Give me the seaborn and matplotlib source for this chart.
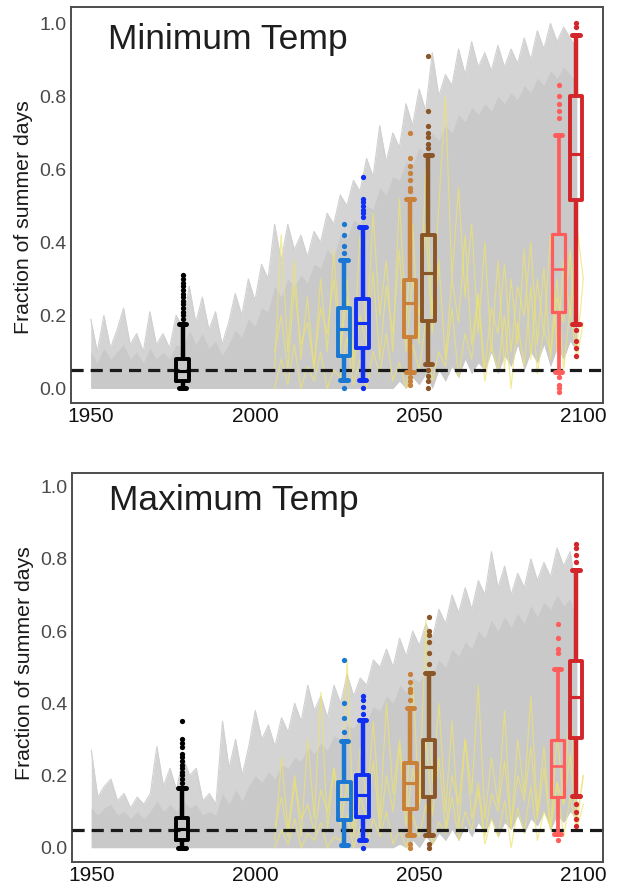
import numpy as np
import pandas as pd
import matplotlib
matplotlib.use("Agg")
import matplotlib.pyplot as plt
import seaborn as sns

sns.set_style("white")
plt.rcParams['font.family'] = ['Liberation Sans', 'DejaVu Sans']

# ---------------- data ----------------
env_years = list(range(1950, 2099, 2))          # 75 points
yellow_years = list(range(2006, 2101, 2))       # 48 points

# Minimum Temp: envelope of model spaghetti
min_outer = [0.19, 0.10, 0.20, 0.11, 0.16, 0.22, 0.12, 0.15, 0.10, 0.21,
             0.12, 0.15, 0.11, 0.20, 0.17, 0.28, 0.18, 0.25, 0.16, 0.21,
             0.12, 0.18, 0.26, 0.20, 0.30, 0.24, 0.34, 0.30, 0.45, 0.35,
             0.45, 0.38, 0.42, 0.36, 0.43, 0.40, 0.48, 0.45, 0.53, 0.50,
             0.57, 0.54, 0.63, 0.58, 0.72, 0.62, 0.70, 0.66, 0.78, 0.72,
             0.82, 0.76, 0.92, 0.80, 0.86, 0.83, 0.93, 0.86, 0.95, 0.88,
             0.92, 0.87, 0.94, 0.88, 0.93, 0.89, 0.96, 0.90, 0.98, 0.93,
             1.00, 0.95, 0.99, 0.96, 0.93]
min_core = [0.10, 0.07, 0.11, 0.08, 0.10, 0.12, 0.08, 0.10, 0.07, 0.11,
            0.08, 0.10, 0.08, 0.12, 0.11, 0.16, 0.12, 0.15, 0.11, 0.13,
            0.09, 0.12, 0.16, 0.14, 0.19, 0.17, 0.22, 0.21, 0.28, 0.25,
            0.30, 0.28, 0.31, 0.29, 0.34, 0.33, 0.38, 0.36, 0.42, 0.41,
            0.46, 0.45, 0.50, 0.49, 0.55, 0.53, 0.58, 0.57, 0.62, 0.61,
            0.66, 0.64, 0.70, 0.68, 0.72, 0.70, 0.75, 0.73, 0.77, 0.75,
            0.78, 0.76, 0.80, 0.78, 0.81, 0.79, 0.83, 0.81, 0.85, 0.83,
            0.87, 0.85, 0.88, 0.86, 0.84]
min_lower = [0.0] * 46 + [0.00, 0.02, 0.00, 0.03, 0.01, 0.04, 0.00, 0.05, 0.02, 0.06,
                          0.03, 0.08, 0.04, 0.07, 0.05, 0.10, 0.04, 0.09, 0.06, 0.12,
                          0.05, 0.10, 0.07, 0.12, 0.06, 0.11, 0.08, 0.13, 0.10]

# Maximum Temp: envelope of model spaghetti
max_outer = [0.27, 0.14, 0.17, 0.19, 0.13, 0.15, 0.11, 0.14, 0.12, 0.15,
             0.28, 0.17, 0.22, 0.16, 0.25, 0.20, 0.22, 0.13, 0.15, 0.12,
             0.35, 0.22, 0.30, 0.20, 0.28, 0.38, 0.30, 0.34, 0.28, 0.36,
             0.32, 0.40, 0.35, 0.45, 0.38, 0.42, 0.36, 0.45, 0.40, 0.48,
             0.42, 0.47, 0.45, 0.52, 0.50, 0.55, 0.50, 0.58, 0.53, 0.60,
             0.56, 0.62, 0.58, 0.66, 0.62, 0.70, 0.65, 0.72, 0.66, 0.74,
             0.70, 0.82, 0.72, 0.78, 0.70, 0.76, 0.72, 0.80, 0.74, 0.79,
             0.75, 0.83, 0.78, 0.82, 0.70]
max_core = [0.11, 0.09, 0.11, 0.12, 0.09, 0.10, 0.08, 0.10, 0.08, 0.10,
            0.13, 0.10, 0.12, 0.10, 0.13, 0.11, 0.12, 0.09, 0.10, 0.09,
            0.15, 0.12, 0.16, 0.13, 0.17, 0.20, 0.18, 0.21, 0.19, 0.23,
            0.22, 0.25, 0.24, 0.28, 0.26, 0.29, 0.27, 0.31, 0.30, 0.34,
            0.33, 0.36, 0.35, 0.39, 0.38, 0.42, 0.40, 0.45, 0.43, 0.47,
            0.46, 0.49, 0.48, 0.52, 0.50, 0.55, 0.53, 0.57, 0.55, 0.60,
            0.58, 0.63, 0.60, 0.64, 0.61, 0.65, 0.62, 0.67, 0.64, 0.68,
            0.66, 0.70, 0.67, 0.69, 0.62]
max_lower = [0.0] * 46 + [0.00, 0.01, 0.00, 0.02, 0.00, 0.03, 0.01, 0.04, 0.02, 0.05,
                          0.02, 0.06, 0.03, 0.07, 0.04, 0.08, 0.03, 0.07, 0.05, 0.09,
                          0.04, 0.08, 0.06, 0.10, 0.05, 0.09, 0.07, 0.10, 0.08]

# Yellow highlighted runs
min_yellow_a = [0.05, 0.42, 0.10, 0.35, 0.08, 0.25, 0.05, 0.30, 0.10, 0.38,
                0.12, 0.30, 0.08, 0.42, 0.15, 0.48, 0.20, 0.35, 0.10, 0.52,
                0.18, 0.45, 0.12, 0.60, 0.20, 0.50, 0.80, 0.30, 0.55, 0.25,
                0.45, 0.15, 0.40, 0.10, 0.35, 0.05, 0.30, 0.12, 0.38, 0.08,
                0.30, 0.15, 0.42, 0.10, 0.35, 0.20, 0.45, 0.30]
min_yellow_b = [0.00, 0.08, 0.01, 0.12, 0.00, 0.06, 0.02, 0.10, 0.00, 0.05,
                0.03, 0.14, 0.01, 0.08, 0.00, 0.10, 0.04, 0.15, 0.02, 0.07,
                0.00, 0.12, 0.05, 0.18, 0.02, 0.10, 0.06, 0.22, 0.03, 0.15,
                0.08, 0.25, 0.02, 0.12, 0.05, 0.20, 0.00, 0.18, 0.06, 0.28,
                0.04, 0.16, 0.10, 0.30, 0.05, 0.22, 0.08, 0.18]
min_yellow_c = [0.10, 0.20, 0.05, 0.28, 0.12, 0.18, 0.06, 0.22, 0.15, 0.30,
                0.10, 0.25, 0.05, 0.20, 0.12, 0.32, 0.08, 0.28, 0.15, 0.38,
                0.10, 0.30, 0.20, 0.45, 0.15, 0.35, 0.08, 0.30, 0.18, 0.42,
                0.12, 0.26, 0.05, 0.22, 0.15, 0.34, 0.10, 0.28, 0.20, 0.40,
                0.12, 0.33, 0.08, 0.25, 0.18, 0.38, 0.10, 0.30]
max_yellow_a = [0.02, 0.25, 0.05, 0.20, 0.03, 0.30, 0.08, 0.43, 0.05, 0.22,
                0.10, 0.52, 0.06, 0.28, 0.12, 0.35, 0.08, 0.40, 0.15, 0.30,
                0.10, 0.46, 0.12, 0.63, 0.18, 0.40, 0.10, 0.35, 0.05, 0.30,
                0.15, 0.45, 0.08, 0.25, 0.12, 0.38, 0.05, 0.30, 0.15, 0.42,
                0.10, 0.28, 0.05, 0.32, 0.12, 0.40, 0.08, 0.20]
max_yellow_b = [0.00, 0.05, 0.01, 0.08, 0.00, 0.04, 0.02, 0.07, 0.00, 0.03,
                0.02, 0.09, 0.00, 0.06, 0.01, 0.08, 0.03, 0.10, 0.01, 0.05,
                0.00, 0.09, 0.03, 0.12, 0.01, 0.07, 0.04, 0.14, 0.02, 0.10,
                0.05, 0.16, 0.01, 0.08, 0.03, 0.13, 0.00, 0.11, 0.04, 0.17,
                0.02, 0.10, 0.06, 0.18, 0.03, 0.14, 0.05, 0.12]
max_yellow_c = [0.06, 0.14, 0.03, 0.18, 0.08, 0.12, 0.04, 0.16, 0.10, 0.22,
                0.06, 0.18, 0.03, 0.14, 0.08, 0.24, 0.05, 0.20, 0.10, 0.28,
                0.06, 0.22, 0.12, 0.30, 0.09, 0.25, 0.05, 0.20, 0.12, 0.30,
                0.08, 0.18, 0.03, 0.15, 0.10, 0.24, 0.06, 0.20, 0.13, 0.28,
                0.08, 0.22, 0.05, 0.18, 0.12, 0.26, 0.06, 0.20]

# Box plots (period summaries)
box_colors = ['#000000', '#1a78d2', '#0f2ff5', '#c98038', '#8a5527', '#ff5c5c', '#d2262b']

min_box_years = [1978.0, 2027.2, 2032.8, 2047.2, 2052.8, 2092.5, 2097.8]
min_q1 = [0.020, 0.090, 0.110, 0.140, 0.185, 0.208, 0.515]
min_med = [0.048, 0.162, 0.178, 0.233, 0.315, 0.326, 0.642]
min_q3 = [0.080, 0.220, 0.245, 0.297, 0.420, 0.423, 0.800]
min_wlo = [0.000, 0.022, 0.022, 0.045, 0.066, 0.045, 0.177]
min_whi = [0.177, 0.353, 0.443, 0.519, 0.639, 0.694, 0.968]
min_fliers = [
    [0.19, 0.20, 0.21, 0.22, 0.23, 0.24, 0.25, 0.26, 0.27, 0.28, 0.29, 0.30, 0.31],
    [0.37, 0.39, 0.42, 0.45, 0.0],
    [0.47, 0.48, 0.49, 0.50, 0.51, 0.52, 0.58, 0.0],
    [0.54, 0.55, 0.57, 0.59, 0.61, 0.63, 0.70, 0.03, 0.02, 0.01],
    [0.66, 0.67, 0.69, 0.70, 0.72, 0.76, 0.91, 0.05, 0.035, 0.02, 0.0],
    [0.74, 0.76, 0.78, 0.80, 0.83, 0.03, 0.01, 0.0, -0.01],
    [0.99, 1.00, 0.16, 0.13, 0.11, 0.09],
]

max_box_years = [1977.7, 2027.2, 2032.7, 2047.3, 2052.9, 2092.2, 2097.7]
max_q1 = [0.021, 0.077, 0.086, 0.108, 0.140, 0.141, 0.303]
max_med = [0.051, 0.135, 0.146, 0.180, 0.224, 0.226, 0.418]
max_q3 = [0.081, 0.181, 0.201, 0.235, 0.298, 0.299, 0.518]
max_wlo = [0.000, 0.008, 0.021, 0.035, 0.035, 0.038, 0.144]
max_whi = [0.165, 0.296, 0.354, 0.388, 0.483, 0.494, 0.769]
max_fliers = [
    [0.18, 0.19, 0.20, 0.21, 0.22, 0.23, 0.24, 0.25, 0.26, 0.28, 0.29, 0.30, 0.35],
    [0.32, 0.36, 0.40, 0.52],
    [0.37, 0.39, 0.41, 0.42, 0.0],
    [0.41, 0.43, 0.44, 0.46, 0.48, 0.0, 0.01],
    [0.51, 0.54, 0.57, 0.59, 0.60, 0.64, 0.0, 0.01],
    [0.54, 0.55, 0.58, 0.62, 0.02],
    [0.79, 0.81, 0.83, 0.84, 0.12, 0.10, 0.08, 0.06],
]

threshold = 0.05
y_ticks = [0.0, 0.2, 0.4, 0.6, 0.8, 1.0]
x_ticks = [1950, 2000, 2050, 2100]
titles = ['Minimum Temp', 'Maximum Temp']
ylabel = 'Fraction of summer days'

# ---------------- figure ----------------
fig = plt.figure(figsize=(6.17, 8.90), dpi=100)
ax_top = fig.add_axes([0.1151, 0.5472, 0.8622, 0.4449])
ax_bot = fig.add_axes([0.1160, 0.0315, 0.8613, 0.4371])

GRAY_OUT = '#d4d4d4'
GRAY_CORE = '#c9c9c9'
YELLOW = '#ede36e'


def draw_panel(ax, outer, core, lower, yellows, years_b, q1, med, q3, wlo, whi, fliers,
               title, ylim, title_y, label_y):
    ax.fill_between(env_years, lower, outer, color=GRAY_OUT, lw=0, zorder=1)
    ax.fill_between(env_years, lower, core, color=GRAY_CORE, lw=0, zorder=1.1)
    sns.lineplot(x=env_years, y=outer, color='#d0d0d0', lw=0.8, ax=ax, zorder=1.2)

    rows = []
    for k, ser in enumerate(yellows):
        for yr, v in zip(yellow_years, ser):
            rows.append({'year': yr, 'value': v, 'run': k})
    dfy = pd.DataFrame(rows)
    sns.lineplot(data=dfy, x='year', y='value', units='run', estimator=None,
                 color=YELLOW, lw=0.9, alpha=0.7, ax=ax, zorder=1.5)

    ax.axhline(threshold, color='#1a1a1a', lw=2.3, dashes=(3.8, 2.2), zorder=3)

    for i in range(len(years_b)):
        c = box_colors[i]
        lw = 2.3 if i == 5 else 2.8
        stats = [dict(med=med[i], q1=q1[i], q3=q3[i], whislo=wlo[i], whishi=whi[i],
                      fliers=fliers[i])]
        ax.bxp(stats, positions=[years_b[i]], widths=3.8, capwidths=2.3,
               manage_ticks=False, zorder=5,
               boxprops=dict(color=c, lw=lw),
               medianprops=dict(color=c, lw=lw * 0.8),
               whiskerprops=dict(color=c, lw=lw + 0.4, solid_capstyle='butt'),
               capprops=dict(color=c, lw=3.6),
               flierprops=dict(marker='o', markersize=3.8, markerfacecolor=c,
                               markeredgecolor=c, markeredgewidth=0, linestyle='none'))

    ax.set_xlim(1944.0, 2106.0)
    ax.set_ylim(*ylim)
    ax.set_xticks(x_ticks)
    ax.set_xticklabels([str(t) for t in x_ticks], fontsize=15, color='#111111')
    ax.set_yticks(y_ticks)
    ax.set_yticklabels([f'{t:.1f}' for t in y_ticks], fontsize=14, color='#4a4a4a')
    ax.tick_params(axis='both', direction='in', length=5, width=1.2, color='#555555')
    ax.tick_params(axis='y', pad=3)
    ax.tick_params(axis='x', pad=3)
    ax.set_xlabel('')
    ax.set_ylabel(ylabel, fontsize=15.3, color='#1a1a1a')
    ax.yaxis.set_label_coords(-0.071, label_y)
    for sp in ax.spines.values():
        sp.set_visible(True)
        sp.set_color('#4d4d4d')
        sp.set_linewidth(1.4)
    ax.text(0.0695, title_y, title, transform=ax.transAxes, fontsize=25.5,
            color='#1e1e1e', ha='left', va='baseline', zorder=6)
    ax.set_facecolor('white')


draw_panel(ax_top, min_outer, min_core, min_lower,
           [min_yellow_a, min_yellow_b, min_yellow_c],
           min_box_years, min_q1, min_med, min_q3, min_wlo, min_whi, min_fliers,
           titles[0], (-0.04, 1.045), 0.894, 0.47)
draw_panel(ax_bot, max_outer, max_core, max_lower,
           [max_yellow_a, max_yellow_b, max_yellow_c],
           max_box_years, max_q1, max_med, max_q3, max_wlo, max_whi, max_fliers,
           titles[1], (-0.0396, 1.038), 0.905, 0.51)

fig.savefig('out.png', dpi=100)
